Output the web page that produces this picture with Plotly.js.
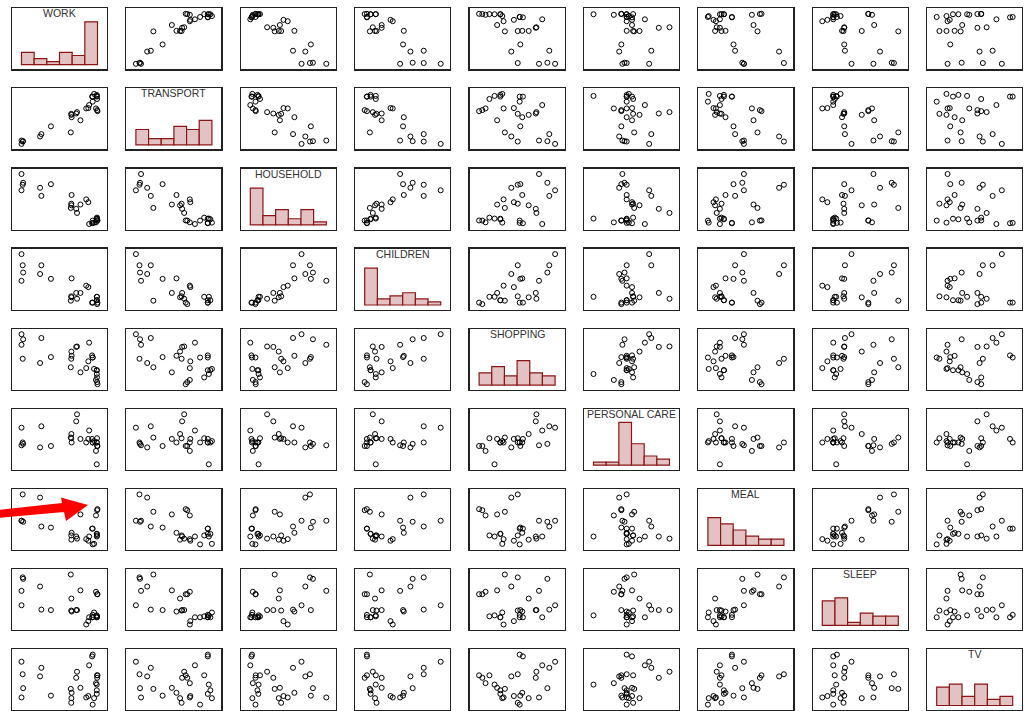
<!DOCTYPE html>
<html><head><meta charset="utf-8">
<script src="https://cdn.plot.ly/plotly-3.0.1.min.js"></script>
<style>html,body{margin:0;padding:0;background:#fff}#chart{width:1027px;height:711px}</style>
</head><body><div id="chart"></div>
<script>
const varNames = ["WORK","TRANSPORT","HOUSEHOLD","CHILDREN","SHOPPING","PERSONAL CARE","MEAL","SLEEP","TV"];
const work      = [610,475,10,615,179,585,482,653,511,20,656,168,643,429,650,560,10,650,260,615,433,650,578,24,652,436,627,434];
const transport = [140,90,0,140,29,115,94,100,70,7,97,22,105,34,140,105,10,145,52,125,89,142,106,8,133,79,148,86];
const household = [60,250,495,65,421,50,196,95,307,568,97,528,72,262,120,375,710,112,576,95,318,122,338,594,134,433,68,297];
// null = missing (not drawn)
const children  = [10,30,110,10,87,null,18,7,30,87,10,69,null,14,15,45,55,15,59,null,23,22,42,72,22,60,null,21];
const shopping  = [120,140,170,115,161,150,141,57,80,112,52,102,62,92,85,90,145,85,116,115,112,76,106,158,68,119,88,129];
const personalCare = [95,120,111,90,113,107,130,85,95,90,85,83,78,97,90,90,86,90,85,90,96,59,95,88,96,90,92,102];
const meal      = [115,100,130,115,119,100,96,150,142,180,152,174,140,147,105,95,130,105,117,85,102,100,92,128,102,107,86,94];
const sleep     = [760,775,785,765,776,760,775,808,816,843,808,824,813,849,760,745,815,760,775,760,774,764,752,840,762,772,770,799];
const tv        = [175,115,160,180,143,150,132,115,87,125,122,119,100,84,70,60,60,80,65,40,45,96,64,86,122,73,58,58];

const columns = [work, transport, household, children, shopping, personalCare, meal, sleep, tv];
const nBins = 6;

const W = 1027, H = 711;
const colLeft0 = 12, colStep = 114.4, panelW = 95;
const rowTop0 = 8.3, rowStep = 80.1, panelH = 61;
const padX = 0.125, padY = 0.11;

function valid(a) { return a.filter(v => v !== null && v !== undefined); }
function rng(a, pad) {
  const b = valid(a);
  const mn = Math.min(...b), mx = Math.max(...b), s = mx - mn;
  return [mn - pad * s, mx + pad * s];
}
function histo(a) {
  const b = valid(a);
  const mn = Math.min(...b), mx = Math.max(...b), w = (mx - mn) / nBins;
  const counts = new Array(nBins).fill(0);
  b.forEach(v => { let k = Math.floor((v - mn) / w); if (k >= nBins) k = nBins - 1; counts[k]++; });
  const centers = counts.map((c, k) => mn + (k + 0.5) * w);
  return {centers, counts, w};
}

const traces = [];
const layout = {
  width: W, height: H, margin: {l: 0, r: 0, t: 0, b: 0},
  showlegend: false, paper_bgcolor: '#fff', plot_bgcolor: '#fff',
  annotations: [], shapes: [], bargap: 0
};
const n = varNames.length;
for (let i = 0; i < n; i++) {
  for (let j = 0; j < n; j++) {
    const k = i * n + j + 1;
    const xs = k === 1 ? '' : String(k);
    const left = colLeft0 + colStep * j, top = rowTop0 + rowStep * i;
    const axBase = {showticklabels: false, showgrid: false, zeroline: false, ticks: '',
      showline: true, mirror: true, linecolor: '#222', linewidth: 1.2, fixedrange: true};
    layout['xaxis' + xs] = Object.assign({}, axBase, {
      domain: [left / W, (left + panelW) / W], range: rng(columns[j], padX), anchor: 'y' + xs});
    if (i === j) {
      const h = histo(columns[i]);
      layout['yaxis' + xs] = Object.assign({}, axBase, {
        domain: [1 - (top + panelH) / H, 1 - top / H], range: [-1.5, 18.4], anchor: 'x' + xs});
      traces.push({type: 'bar', x: h.centers, y: h.counts, width: h.w, xaxis: 'x' + xs, yaxis: 'y' + xs,
        marker: {color: '#ecd0d0', line: {color: '#8b1515', width: 1.2},
          pattern: {shape: '.', fgcolor: '#c99595', bgcolor: '#f3dfdf', size: 2, solidity: 0.4}},
        hoverinfo: 'skip'});
      layout.annotations.push({text: varNames[i], xref: 'paper', yref: 'paper',
        x: (left + panelW / 2) / W, y: 1 - (top + 5) / H, xanchor: 'center', yanchor: 'middle',
        showarrow: false, font: {family: 'Liberation Sans, Arial, sans-serif', size: 10.5, color: '#333'}});
    } else {
      layout['yaxis' + xs] = Object.assign({}, axBase, {
        domain: [1 - (top + panelH) / H, 1 - top / H], range: rng(columns[i], padY), anchor: 'x' + xs});
      traces.push({type: 'scatter', mode: 'markers', x: columns[j], y: columns[i],
        xaxis: 'x' + xs, yaxis: 'y' + xs, cliponaxis: false,
        marker: {symbol: 'circle-open', size: 5, color: '#000', line: {width: 1}}, hoverinfo: 'skip'});
    }
  }
}

// red arrow (decoration) in pixel coords
const arrowPx = [[-2,510],[62,503],[61,497.5],[88,505],[66,521],[64,512],[-2,518]];
const path = arrowPx.map((p, idx) => (idx ? 'L' : 'M') + (p[0] / W).toFixed(5) + ',' + (1 - p[1] / H).toFixed(5)).join(' ') + ' Z';
layout.shapes.push({type: 'path', xref: 'paper', yref: 'paper', path: path,
  fillcolor: '#ff0000', line: {width: 0}});

Plotly.newPlot('chart', traces, layout, {staticPlot: true, displayModeBar: false});
</script></body></html>
